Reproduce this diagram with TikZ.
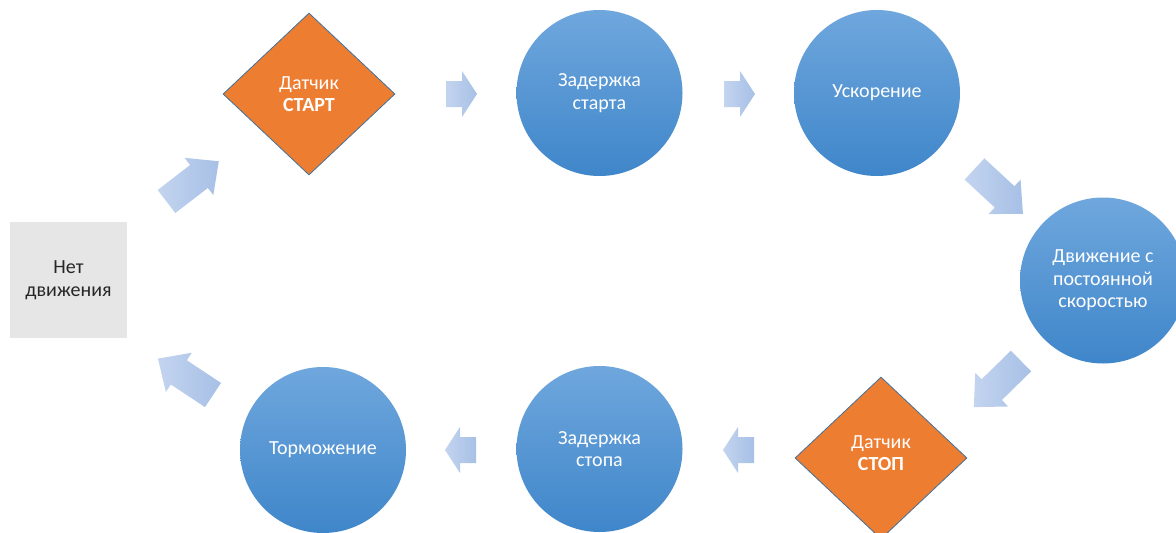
\documentclass[tikz,border=0pt]{standalone}
\usepackage{fontspec}
\setmainfont{Carlito}
\usetikzlibrary{shapes.geometric}
\definecolor{orangeF}{HTML}{ED7D31}
\definecolor{diaborder}{HTML}{41719C}
\definecolor{circtop}{HTML}{6FA7DD}
\definecolor{circbot}{HTML}{3F86CA}
\definecolor{rectgray}{HTML}{E7E6E6}
\definecolor{arrA}{HTML}{C3D4EF}
\definecolor{arrB}{HTML}{A7C0E6}
\definecolor{txtdark}{HTML}{262626}
\tikzset{
  lbl/.style={font=\fontsize{20}{22.5}\selectfont, align=center},
  circ/.style={circle, minimum size=166pt, inner sep=0pt, top color=circtop, bottom color=circbot, draw=none, text=white, lbl},
  sensor/.style={diamond, minimum width=172pt, minimum height=162pt, inner sep=0pt, fill=orangeF, draw=diaborder, line width=0.8pt, text=white, lbl},
  idle/.style={rectangle, minimum width=117pt, minimum height=116pt, inner sep=0pt, fill=rectgray, text=txtdark, lbl},
  arrfill/.style={left color=arrA, right color=arrB, draw=none},
  smallarrow/.pic={\path[arrfill] (0,-13) -- (16,-13) -- (16,-23) -- (31,0) -- (16,23) -- (16,13) -- (0,13) -- cycle;},
  bigarrow/.pic={\path[arrfill] (0,-14.5) -- (41,-14.5) -- (41,-23.5) -- (66,0) -- (41,23.5) -- (41,14.5) -- (0,14.5) -- cycle;}
}
\begin{document}
\begin{tikzpicture}[x=1pt,y=-1pt]
\useasboundingbox (0,0) rectangle (1176,533);
\fill[white] (0,0) rectangle (1176,533);
% nodes
\node[idle] (idle) at (68.5,280) {Нет\\движения};
\node[sensor] (start) at (309,94) {Датчик\\\textbf{СТАРТ}};
\node[circ] (delstart) at (599.5,93) {Задержка\\старта};
\node[circ] (accel) at (877,93) {Ускорение};
\node[circ] (const) at (1103,280.5) {Движение с\\постоянной\\скоростью};
\node[sensor] (stop) at (881,458) {};
\node[lbl, text=white] (stoplbl) at (881,453) {Датчик\\\textbf{СТОП}};
\node[circ] (delstop) at (599.5,449) {Задержка\\стопа};
\node[circ] (brake) at (323,450) {Торможение};
% block arrows
\pic[rotate=37.6] at (166.5,201.5) {bigarrow};
\pic at (446,94) {smallarrow};
\pic at (724,94) {smallarrow};
\pic[rotate=-42.8] at (974.5,169) {bigarrow};
\pic[rotate=-135.6] at (1021,361) {bigarrow};
\pic[rotate=180] at (754,450) {smallarrow};
\pic[rotate=180] at (476,450) {smallarrow};
\pic[rotate=146.5] at (213,395) {bigarrow};
\end{tikzpicture}
\end{document}
